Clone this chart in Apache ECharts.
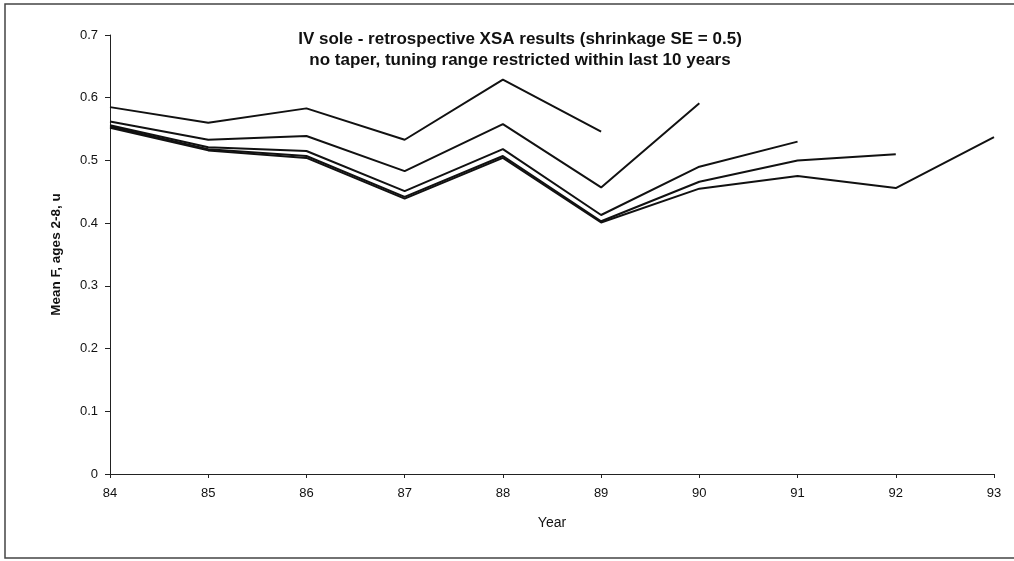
<!DOCTYPE html>
<html>
<head>
<meta charset="utf-8">
<script src="https://cdn.jsdelivr.net/npm/echarts@6/dist/echarts.min.js"></script>
<style>
  html, body { margin: 0; padding: 0; background: #fff; }
  #chart { width: 1014px; height: 561px; }
</style>
</head>
<body>
<div id="chart"></div>
<script>
// Assessment years (axis categories)
const years = ['84', '85', '86', '87', '88', '89', '90', '91', '92', '93'];

// Retrospective runs: mean F (ages 2-8) by terminal year of each run
const run89 = [0.585, 0.560, 0.583, 0.533, 0.629, 0.546, null, null, null, null];
const run90 = [0.562, 0.533, 0.539, 0.483, 0.558, 0.457, 0.591, null, null, null];
const run91 = [0.556, 0.521, 0.515, 0.451, 0.518, 0.413, 0.490, 0.530, null, null];
const run92 = [0.554, 0.518, 0.507, 0.442, 0.507, 0.403, 0.466, 0.500, 0.510, null];
const run93 = [0.552, 0.516, 0.504, 0.439, 0.504, 0.401, 0.455, 0.475, 0.456, 0.537];

const runs = [run89, run90, run91, run92, run93];

const chart = echarts.init(document.getElementById('chart'));

const lineSeries = runs.map(values => ({
  type: 'line',
  data: values,
  symbol: 'none',
  connectNulls: false,
  lineStyle: { color: '#111', width: 2 },
  emphasis: { disabled: true }
}));

chart.setOption({
  animation: false,
  backgroundColor: '#fff',
  textStyle: { fontFamily: 'Liberation Sans, Arial, sans-serif' },
  title: {
    text: 'IV sole - retrospective XSA results (shrinkage SE = 0.5)\nno taper, tuning range restricted within last 10 years',
    left: 515,
    top: 24,
    textAlign: 'center',
    textStyle: {
      fontFamily: 'Liberation Sans, Arial, sans-serif',
      fontSize: 17,
      fontWeight: 'bold',
      color: '#111',
      lineHeight: 21
    }
  },
  graphic: [{
    type: 'rect',
    shape: { x: 5, y: 4, width: 1030, height: 554 },
    style: { fill: null, stroke: '#444', lineWidth: 1.5 },
    silent: true,
    z: -1
  }],
  grid: { left: 110, right: 20, top: 35, bottom: 87 },
  xAxis: {
    type: 'category',
    data: years,
    boundaryGap: false,
    name: 'Year',
    nameLocation: 'middle',
    nameGap: 42,
    nameTextStyle: { fontSize: 14, color: '#111' },
    axisLine: { lineStyle: { color: '#222', width: 1 } },
    axisTick: { show: true, length: 4, lineStyle: { color: '#222' } },
    axisLabel: { fontSize: 13, color: '#111', margin: 13 },
    splitLine: { show: false }
  },
  yAxis: {
    type: 'value',
    min: 0,
    max: 0.7,
    interval: 0.1,
    name: 'Mean F, ages 2-8, u',
    nameLocation: 'middle',
    nameGap: 47,
    nameTextStyle: { fontSize: 13.5, fontWeight: 'bold', color: '#111' },
    axisLine: { show: true, lineStyle: { color: '#222', width: 1 } },
    axisTick: { show: true, length: 5, lineStyle: { color: '#222' } },
    axisLabel: {
      fontSize: 13,
      color: '#111',
      margin: 12,
      formatter: v => (v === 0 ? '0' : v.toFixed(1))
    },
    splitLine: { show: false }
  },
  series: lineSeries
});
</script>
</body>
</html>
